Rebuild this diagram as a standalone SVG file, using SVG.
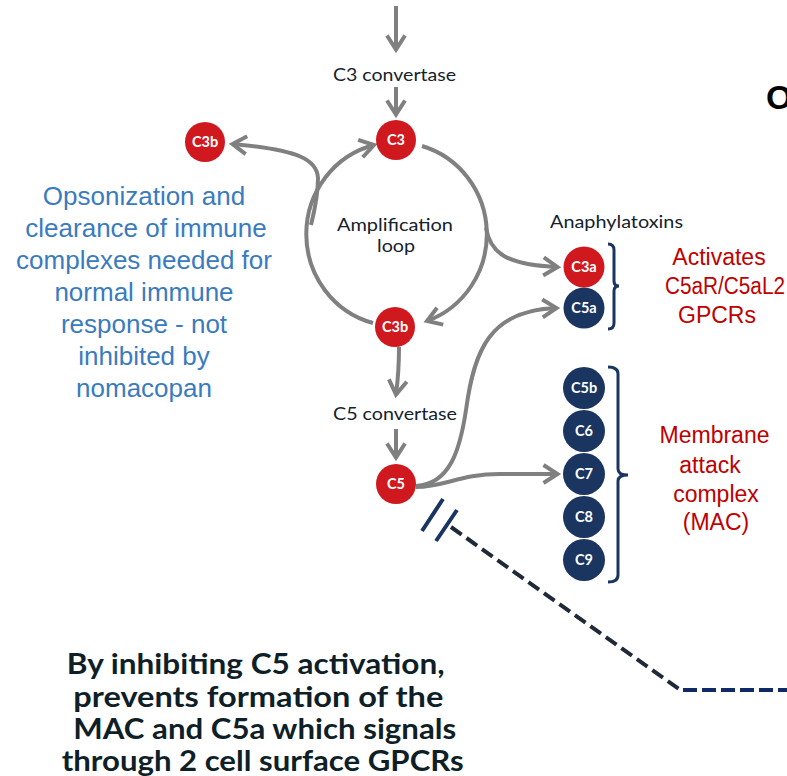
<svg xmlns="http://www.w3.org/2000/svg" width="787" height="776" viewBox="0 0 787 776">
<style>
.lbl{font-family:Lato,"Open Sans",sans-serif;font-size:18px;fill:#13222b;text-anchor:middle}
.nd{font-family:Lato,"Open Sans",sans-serif;font-weight:bold;font-size:14.5px;fill:#fff;text-anchor:middle}
.red{fill:#d0191f}
.navy{fill:#1a3560}
.blue{font-family:"Liberation Sans",Arial,sans-serif;font-size:26px;fill:#3a7bbf;text-anchor:middle}
.rtx{font-family:"Liberation Sans",Arial,sans-serif;font-size:23px;fill:#c00000;text-anchor:middle}
.bold{font-family:Lato,"Open Sans",sans-serif;font-weight:bold;font-size:29px;fill:#0f1f27}
.arr{fill:none;stroke:#808080;stroke-width:4}
.brk{fill:none;stroke:#1a3560;stroke-width:3}
</style>
<defs>
<marker id="ah" viewBox="-18 -12 24 24" refX="0" refY="0" markerWidth="24" markerHeight="24" markerUnits="userSpaceOnUse" orient="auto">
<path d="M-14,-9 L0,0 L-14,9" fill="none" stroke="#808080" stroke-width="4"/>
</marker>
</defs>

<g id="connectors">
<path class="arr" d="M396 6 L396 49.5" marker-end="url(#ah)"/>
<path class="arr" d="M396 87 L396 114.5" marker-end="url(#ah)"/>
<path class="arr" d="M373 323 A 90 92 0 0 1 374 145" marker-end="url(#ah)"/>
<path class="arr" d="M422 146 A 90 92 0 0 1 427 321" marker-end="url(#ah)"/>
<path class="arr" d="M311 225 C 316 205, 318 190, 318 178 C 317 160, 300 150, 232.5 144" marker-end="url(#ah)"/>
<path class="arr" d="M486 228 C 490 252, 505 265, 557.5 267" marker-end="url(#ah)"/>
<path class="arr" d="M399 347 Q 399 372 396 394.5" marker-end="url(#ah)"/>
<path class="arr" d="M396 429 L396 457.5" marker-end="url(#ah)"/>
<path class="arr" d="M416 486 C 450 484, 460 450, 466 410 C 474 350, 490 310, 556.5 308" marker-end="url(#ah)"/>
<path class="arr" d="M416 487 C 445 487, 460 474, 500 474 L 557.5 474" marker-end="url(#ah)"/>
<path d="M443 499 L422 531 M457 510 L436 541" stroke="#1a3560" stroke-width="4" fill="none"/>
<path d="M451 527 L679 689" stroke="#1f2937" stroke-width="4" stroke-dasharray="13 6" fill="none"/>
<path d="M683 690 L787 690" stroke="#0f2a66" stroke-width="4" stroke-dasharray="14 5" fill="none"/>
<path class="brk" d="M608 244 Q 614 244 614 250 L 614 281 Q 614 286 619 286 Q 614 286 614 291 L 614 323 Q 614 329 608 329"/>
<path class="brk" d="M608 367 Q 618 367 618 374 L 618 469 Q 618 475 628 475 Q 618 475 618 481 L 618 575 Q 618 582 608 582"/>
</g>

<g id="c3"><circle class="red" cx="396" cy="140" r="20"/><text class="nd" x="396" y="145">C3</text></g>
<g id="c3b-left"><circle class="red" cx="205" cy="142" r="20"/><text class="nd" x="205" y="147">C3b</text></g>
<g id="c3b"><circle class="red" cx="395" cy="327" r="20"/><text class="nd" x="395" y="332">C3b</text></g>
<g id="c5"><circle class="red" cx="396" cy="484" r="20"/><text class="nd" x="396" y="489">C5</text></g>
<g id="c3a"><circle class="red" cx="584" cy="267" r="20.5"/><text class="nd" x="584" y="272">C3a</text></g>
<g id="c5a"><circle class="navy" cx="584" cy="308" r="20.5"/><text class="nd" x="584" y="313">C5a</text></g>
<g id="c5b"><circle class="navy" cx="584" cy="388" r="21"/><text class="nd" x="584" y="393">C5b</text></g>
<g id="c6"><circle class="navy" cx="584" cy="431" r="21"/><text class="nd" x="584" y="436">C6</text></g>
<g id="c7"><circle class="navy" cx="584" cy="474" r="21"/><text class="nd" x="584" y="479">C7</text></g>
<g id="c8"><circle class="navy" cx="584" cy="517" r="21"/><text class="nd" x="584" y="522">C8</text></g>
<g id="c9"><circle class="navy" cx="584" cy="560" r="21"/><text class="nd" x="584" y="565">C9</text></g>

<g id="labels">
<text class="lbl" x="394.5" y="81" textLength="123" lengthAdjust="spacingAndGlyphs">C3 convertase</text>
<text class="lbl" x="395" y="420" textLength="124" lengthAdjust="spacingAndGlyphs">C5 convertase</text>
<text class="lbl" x="395" y="231" textLength="116" lengthAdjust="spacingAndGlyphs">Amplification</text>
<text class="lbl" x="396" y="252" textLength="38" lengthAdjust="spacingAndGlyphs">loop</text>
<text class="lbl" x="616.5" y="228" style="font-size:16.5px" textLength="133" lengthAdjust="spacingAndGlyphs">Anaphylatoxins</text>
</g>

<g id="opsonization-note">
<text class="blue" x="144" y="205">Opsonization and</text>
<text class="blue" x="146" y="237">clearance of immune</text>
<text class="blue" x="144" y="269">complexes needed for</text>
<text class="blue" x="144" y="301">normal immune</text>
<text class="blue" x="144" y="333">response - not</text>
<text class="blue" x="144" y="365">inhibited by</text>
<text class="blue" x="144" y="397">nomacopan</text>
</g>

<g id="anaphylatoxin-note">
<text class="rtx" x="719" y="265">Activates</text>
<text class="rtx" x="665" y="294" style="text-anchor:start" textLength="120" lengthAdjust="spacingAndGlyphs">C5aR/C5aL2</text>
<text class="rtx" x="717" y="323">GPCRs</text>
</g>

<g id="mac-note">
<text class="rtx" x="714.5" y="443">Membrane</text>
<text class="rtx" x="710" y="473">attack</text>
<text class="rtx" x="716" y="502">complex</text>
<text class="rtx" x="716" y="530">(MAC)</text>
</g>

<g id="summary">
<text class="bold" x="66.7" y="674" textLength="378" lengthAdjust="spacingAndGlyphs">By inhibiting C5 activation,</text>
<text class="bold" x="73.3" y="707" textLength="370" lengthAdjust="spacingAndGlyphs">prevents formation of the</text>
<text class="bold" x="73.3" y="739" textLength="383" lengthAdjust="spacingAndGlyphs">MAC and C5a which signals</text>
<text class="bold" x="61.7" y="771" textLength="402" lengthAdjust="spacingAndGlyphs">through 2 cell surface GPCRs</text>
</g>

<text x="766" y="109" style="font-family:'Liberation Sans',Arial,sans-serif;font-weight:bold;font-size:34px;fill:#000">O</text>
</svg>
